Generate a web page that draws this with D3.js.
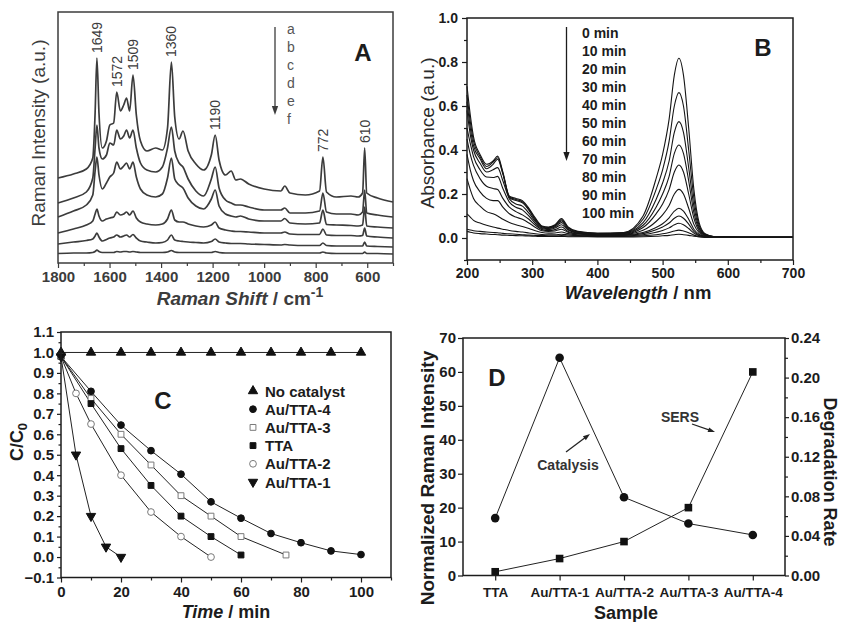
<!DOCTYPE html>
<html>
<head>
<meta charset="utf-8">
<script src="https://cdnjs.cloudflare.com/ajax/libs/d3/7.8.5/d3.min.js"></script>
<style>
  body { margin: 0; background: #fff; }
  svg { display: block; }
  text { font-family: "Liberation Sans", Arial, sans-serif; }
</style>
</head>
<body>
<svg id="fig" width="843" height="622"></svg>
<script>
// ---------- data: A, SERS spectra a-f ----------
const ramanShift = [1800, 1740, 1690, 1665, 1656, 1649, 1641, 1628, 1612, 1599,
  1584, 1572, 1558, 1545, 1534, 1522, 1509, 1496, 1480, 1455,
  1421, 1395, 1375, 1360, 1347, 1330, 1315, 1295, 1265, 1235,
  1205, 1190, 1175, 1150, 1128, 1110, 1092, 1060, 1000, 935,
  920, 900, 840, 785, 772, 758, 720, 663, 635, 618,
  610, 602, 560, 500];
const ramanA = [85, 89, 94, 105, 150, 205, 150, 115, 122, 138,
  140, 171, 152, 158, 165, 152, 188, 148, 122, 112,
  115, 113, 135, 201, 146, 124, 132, 112, 99, 93,
  108, 128, 103, 88, 92, 83, 84, 79, 74, 72,
  77, 70, 68, 72, 106, 71, 66, 67, 66, 70,
  115, 70, 65, 61];
const ramanB = [60, 65, 71, 85, 115, 138, 115, 104, 108, 120,
  118, 133, 124, 127, 133, 125, 133, 115, 100, 93,
  91, 96, 115, 136, 112, 100, 96, 84, 72, 67,
  84, 96, 75, 63, 60, 58, 58, 56, 53, 53,
  55, 50, 50, 52, 70, 51, 49, 49, 48, 51,
  73, 50, 48, 46];
const ramanC = [46, 52, 58, 68, 92, 106, 88, 74, 80, 86,
  90, 101, 94, 97, 100, 94, 101, 86, 74, 68,
  66, 69, 85, 105, 84, 78, 75, 65, 57, 54,
  64, 73, 57, 49, 47, 46, 47, 44, 42, 42,
  44.5, 40, 39, 40, 53, 38.5, 38, 37.5, 37, 38,
  56, 37, 36, 35];
const ramanD = [30, 34, 38, 42, 49, 54, 47, 42, 44, 45,
  46, 51, 48, 49, 51, 48, 52, 45, 41, 39,
  38, 39, 44, 53, 43, 41, 41, 39, 37, 36,
  38, 41, 35, 33, 32, 31.5, 31.5, 31, 30, 30,
  31, 29, 28.5, 28.5, 34, 28, 27.5, 27.5, 27, 27.5,
  35, 27, 26, 25];
const ramanE = [19, 21, 22.5, 24, 27, 30, 26, 22, 23.5, 25,
  26, 28, 26, 27, 28, 26, 28.5, 25, 22, 21,
  20, 20.5, 23, 28, 23, 22, 21.5, 21, 20.5, 20,
  21.5, 24, 21, 20, 19.5, 19.5, 19.5, 19, 18.5, 18,
  18.5, 18, 17.5, 17.5, 20, 17.5, 17, 17, 17, 17,
  21, 17, 16.5, 16];
const ramanF = [9.5, 10, 10, 10.5, 11.5, 13, 11.5, 10.5, 10.5, 10.5,
  10.5, 11.5, 11, 11.5, 11.5, 11, 11.5, 11, 10.5, 10.5,
  10.5, 10.5, 11, 12.5, 11, 10.5, 10.5, 10.5, 10.5, 10.5,
  10.5, 11.5, 10.5, 10, 10, 10, 10, 10, 10, 10,
  10, 10, 10, 10, 11, 10, 9.5, 9.5, 9.5, 9.5,
  11, 9.5, 9.5, 9];
const ramanSpectra = [ramanA, ramanB, ramanC, ramanD, ramanE, ramanF];
const ramanNames = ["a", "b", "c", "d", "e", "f"];
const peakLabels = [1649, 1572, 1509, 1360, 1190, 772, 610];
const ramanTicks = [1800, 1600, 1400, 1200, 1000, 800, 600];

// ---------- data: B, UV-vis absorbance ----------
const wavelength = [200, 205, 210, 220, 230, 240, 247, 255, 265, 275, 285, 295, 305, 315, 325,
  335, 345, 355, 370, 400, 440, 470, 490, 500, 510, 518, 525, 532, 540, 548, 556, 565, 580, 620, 700];
const abs0 = [0.69, 0.56, 0.46, 0.38, 0.335, 0.35, 0.372, 0.30, 0.19, 0.18, 0.17, 0.135, 0.09, 0.055, 0.05,
  0.06, 0.088, 0.05, 0.03, 0.022, 0.025, 0.1, 0.27, 0.38, 0.54, 0.74, 0.817, 0.74, 0.5, 0.22, 0.07, 0.02, 0.006, 0.003, 0.003];
const abs10 = [0.65, 0.53, 0.44, 0.37, 0.325, 0.345, 0.365, 0.295, 0.187, 0.175, 0.165, 0.13, 0.085, 0.052, 0.048,
  0.057, 0.083, 0.047, 0.028, 0.02, 0.023, 0.085, 0.22, 0.31, 0.44, 0.6, 0.661, 0.6, 0.4, 0.18, 0.058, 0.018, 0.006, 0.003, 0.003];
const abs20 = [0.62, 0.5, 0.42, 0.36, 0.315, 0.335, 0.358, 0.29, 0.184, 0.17, 0.16, 0.125, 0.08, 0.05, 0.046,
  0.055, 0.078, 0.045, 0.027, 0.02, 0.022, 0.07, 0.175, 0.25, 0.35, 0.48, 0.529, 0.48, 0.32, 0.145, 0.048, 0.016, 0.005, 0.003, 0.003];
const abs30 = [0.58, 0.47, 0.4, 0.34, 0.3, 0.31, 0.32, 0.26, 0.178, 0.155, 0.145, 0.113, 0.074, 0.047, 0.043,
  0.05, 0.07, 0.04, 0.025, 0.018, 0.02, 0.058, 0.14, 0.2, 0.28, 0.385, 0.423, 0.385, 0.26, 0.115, 0.04, 0.014, 0.005, 0.003, 0.003];
const abs40 = [0.5, 0.43, 0.37, 0.31, 0.277, 0.275, 0.28, 0.225, 0.163, 0.14, 0.128, 0.1, 0.066, 0.043, 0.038,
  0.045, 0.06, 0.036, 0.022, 0.016, 0.018, 0.048, 0.11, 0.155, 0.22, 0.3, 0.332, 0.3, 0.2, 0.09, 0.032, 0.012, 0.005, 0.003, 0.003];
const abs50 = [0.45, 0.38, 0.33, 0.27, 0.235, 0.225, 0.22, 0.18, 0.14, 0.12, 0.105, 0.085, 0.058, 0.038, 0.034,
  0.038, 0.05, 0.03, 0.02, 0.015, 0.016, 0.035, 0.075, 0.105, 0.148, 0.2, 0.221, 0.2, 0.135, 0.062, 0.024, 0.01, 0.004, 0.003, 0.003];
const abs60 = [0.38, 0.31, 0.26, 0.21, 0.18, 0.17, 0.17, 0.14, 0.11, 0.095, 0.085, 0.068, 0.048, 0.033, 0.03,
  0.032, 0.04, 0.026, 0.018, 0.013, 0.014, 0.025, 0.048, 0.065, 0.092, 0.122, 0.135, 0.122, 0.085, 0.04, 0.017, 0.008, 0.004, 0.003, 0.003];
const abs70 = [0.27, 0.22, 0.18, 0.145, 0.12, 0.11, 0.1, 0.085, 0.07, 0.06, 0.052, 0.043, 0.033, 0.025, 0.022,
  0.023, 0.027, 0.02, 0.014, 0.011, 0.012, 0.02, 0.037, 0.05, 0.068, 0.09, 0.1, 0.09, 0.063, 0.03, 0.013, 0.007, 0.004, 0.003, 0.003];
const abs80 = [0.11, 0.095, 0.08, 0.068, 0.058, 0.05, 0.045, 0.04, 0.034, 0.03, 0.027, 0.023, 0.019, 0.016, 0.015,
  0.015, 0.017, 0.014, 0.011, 0.009, 0.01, 0.015, 0.026, 0.034, 0.046, 0.06, 0.067, 0.06, 0.043, 0.022, 0.01, 0.006, 0.004, 0.003, 0.003];
const abs90 = [0.04, 0.036, 0.033, 0.03, 0.027, 0.025, 0.024, 0.021, 0.019, 0.017, 0.015, 0.013, 0.012, 0.011, 0.01,
  0.01, 0.011, 0.009, 0.008, 0.007, 0.007, 0.01, 0.015, 0.019, 0.025, 0.032, 0.036, 0.032, 0.024, 0.013, 0.007, 0.004, 0.003, 0.003, 0.003];
const abs100 = [0.03, 0.026, 0.023, 0.02, 0.018, 0.016, 0.015, 0.013, 0.012, 0.011, 0.01, 0.009, 0.008, 0.007, 0.007,
  0.007, 0.007, 0.006, 0.006, 0.005, 0.005, 0.006, 0.008, 0.01, 0.012, 0.015, 0.017, 0.015, 0.012, 0.008, 0.005, 0.003, 0.003, 0.003, 0.003];
const absSpectra = [abs0, abs10, abs20, abs30, abs40, abs50, abs60, abs70, abs80, abs90, abs100];
const absTimes = [0, 10, 20, 30, 40, 50, 60, 70, 80, 90, 100];

// ---------- data: C, C/C0 vs time ----------
const kinetics = [
  {name: "No catalyst", symbol: "triUp", fill: true,
   t: [0, 10, 20, 30, 40, 50, 60, 70, 80, 90, 100], v: [1, 1, 1, 1, 1, 1, 1, 1, 1, 1, 1]},
  {name: "Au/TTA-4", symbol: "circle", fill: true,
   t: [0, 10, 20, 30, 40, 50, 60, 70, 80, 90, 100], v: [0.98, 0.81, 0.645, 0.52, 0.405, 0.27, 0.19, 0.115, 0.07, 0.03, 0.012]},
  {name: "Au/TTA-3", symbol: "square", fill: false,
   t: [0, 10, 20, 30, 40, 50, 60, 75], v: [0.98, 0.775, 0.6, 0.45, 0.3, 0.2, 0.1, 0.01]},
  {name: "TTA", symbol: "square", fill: true,
   t: [0, 10, 20, 30, 40, 50, 60], v: [0.98, 0.75, 0.53, 0.35, 0.2, 0.1, 0.01]},
  {name: "Au/TTA-2", symbol: "circle", fill: false,
   t: [0, 5, 10, 20, 30, 40, 50], v: [0.98, 0.8, 0.65, 0.4, 0.22, 0.1, 0.0]},
  {name: "Au/TTA-1", symbol: "triDown", fill: true,
   t: [0, 5, 10, 15, 20], v: [0.98, 0.5, 0.2, 0.05, 0.0]}
];

// ---------- data: D, SERS vs catalysis ----------
const samples = ["TTA", "Au/TTA-1", "Au/TTA-2", "Au/TTA-3", "Au/TTA-4"];
const sersIntensity = [1.1, 5.0, 10, 20, 60];
const degradationRate = [0.058, 0.22, 0.079, 0.0525, 0.041];

// ---------------------------------------------------------------
const svg = d3.select("#fig");
const INK = "#1c1c1c";
const BOLD = "bold";

function frame(x0, y0, x1, y1, color) {
  svg.append("rect").attr("x", x0).attr("y", y0)
    .attr("width", x1 - x0).attr("height", y1 - y0)
    .attr("fill", "none").attr("stroke", color || INK).attr("stroke-width", 1.5);
}

function styleAxis(g, size, color) {
  g.select(".domain").remove();
  g.selectAll("line").attr("stroke", color || INK).attr("stroke-width", 1.2);
  g.selectAll("text").attr("font-size", size).attr("font-weight", BOLD)
    .attr("fill", color || INK).attr("font-family", '"Liberation Sans", Arial, sans-serif');
  return g;
}

function minor(axis, values, size) {
  return axis.tickValues(values).tickSize(size).tickFormat("");
}

function arrow(x1, y1, x2, y2, color, head) {
  const a = Math.atan2(y2 - y1, x2 - x1), h = head || 8, w = h * 0.35;
  svg.append("line").attr("x1", x1).attr("y1", y1)
    .attr("x2", x2 - Math.cos(a) * h * 0.6).attr("y2", y2 - Math.sin(a) * h * 0.6)
    .attr("stroke", color).attr("stroke-width", 1.3);
  const p = [[x2, y2],
    [x2 - Math.cos(a) * h - Math.sin(a) * w, y2 - Math.sin(a) * h + Math.cos(a) * w],
    [x2 - Math.cos(a) * h + Math.sin(a) * w, y2 - Math.sin(a) * h - Math.cos(a) * w]];
  svg.append("path").attr("d", "M" + p.join("L") + "Z").attr("fill", color);
}

function panelLetter(x, y, s) {
  svg.append("text").attr("x", x).attr("y", y).attr("text-anchor", "middle")
    .attr("font-family", '"Liberation Serif", "Times New Roman", serif')
    .attr("font-weight", BOLD).attr("font-size", 24).attr("fill", INK).text(s);
}

// ================= A =================
{
  const gray = "#3c3c3c";
  const x = d3.scaleLinear().domain([1800, 500]).range([58, 393]);
  const y = d3.scaleLinear().domain([0, 251]).range([263, 12]);

  const line = d3.line().x((d, i) => x(ramanShift[i])).y(d => y(d)).curve(d3.curveMonotoneX);
  svg.append("g").selectAll("path").data(ramanSpectra).join("path")
    .attr("d", line).attr("fill", "none").attr("stroke", gray).attr("stroke-width", 1.7);

  frame(58, 12, 393, 263, gray);

  styleAxis(svg.append("g").attr("transform", "translate(0,263)")
    .call(d3.axisBottom(x).tickValues(ramanTicks).tickFormat(d3.format("d")).tickSize(5).tickPadding(3)), 15, gray);
  styleAxis(svg.append("g").attr("transform", "translate(0,263)")
    .call(minor(d3.axisBottom(x), d3.range(500, 1801, 100).filter(v => v % 200 !== 0), 3)), 15, gray);

  // peak labels sit just above spectrum a
  peakLabels.forEach(p => {
    const i = ramanShift.indexOf(p);
    const top = y(ramanA[i]);
    svg.append("text").attr("transform", `translate(${x(p) + 5},${top - 5}) rotate(-90)`)
      .attr("font-size", 14).attr("fill", gray).text(p);
  });

  ramanNames.forEach((n, i) => {
    svg.append("text").attr("x", 287).attr("y", 34 + i * 18)
      .attr("font-size", 14).attr("fill", "#555").text(n);
  });
  arrow(275, 27, 275, 115, gray, 9);
  panelLetter(363, 61, "A");

  svg.append("text").attr("transform", "translate(45,133) rotate(-90)")
    .attr("text-anchor", "middle").attr("font-size", 19).attr("fill", gray)
    .text("Raman Intensity (a.u.)");
  const t = svg.append("text").attr("x", 240).attr("y", 305).attr("text-anchor", "middle")
    .attr("font-size", 19).attr("font-weight", BOLD).attr("fill", gray);
  t.append("tspan").attr("font-style", "italic").text("Raman Shift");
  t.append("tspan").text(" / cm");
  t.append("tspan").attr("font-size", 14).attr("dy", -8).text("-1");
}

// ================= B =================
{
  const x = d3.scaleLinear().domain([200, 700]).range([467, 793]);
  const y = d3.scaleLinear().domain([-0.1, 1.0]).range([260, 18]);

  const line = d3.line().x((d, i) => x(wavelength[i])).y(d => y(d)).curve(d3.curveMonotoneX);
  svg.append("g").selectAll("path").data(absSpectra).join("path")
    .attr("d", line).attr("fill", "none").attr("stroke", "#151515").attr("stroke-width", 1.1);

  frame(467, 18, 793, 260);

  styleAxis(svg.append("g").attr("transform", "translate(0,260)")
    .call(d3.axisBottom(x).tickValues([200, 300, 400, 500, 600, 700]).tickSize(5).tickPadding(3)), 14);
  styleAxis(svg.append("g").attr("transform", "translate(0,260)")
    .call(minor(d3.axisBottom(x), [250, 350, 450, 550, 650], 3)), 14);
  styleAxis(svg.append("g").attr("transform", "translate(467,0)")
    .call(d3.axisLeft(y).tickValues([0, 0.2, 0.4, 0.6, 0.8, 1.0]).tickFormat(d3.format(".1f")).tickSize(5).tickPadding(4)), 14);
  styleAxis(svg.append("g").attr("transform", "translate(467,0)")
    .call(minor(d3.axisLeft(y), [-0.1, 0.1, 0.3, 0.5, 0.7, 0.9], 3)), 14);

  absTimes.forEach((m, i) => {
    svg.append("text").attr("x", 582).attr("y", 38 + i * 18)
      .attr("font-size", 14).attr("font-weight", BOLD).attr("fill", INK).text(m + " min");
  });
  arrow(566.5, 27, 566.5, 161, INK, 9);
  panelLetter(763, 56, "B");

  svg.append("text").attr("transform", "translate(434,133) rotate(-90)")
    .attr("text-anchor", "middle").attr("font-size", 19).attr("fill", "#2a2a2a")
    .text("Absorbance (a.u.)");
  const t = svg.append("text").attr("x", 638).attr("y", 299).attr("text-anchor", "middle")
    .attr("font-size", 18.5).attr("font-weight", BOLD).attr("fill", INK);
  t.append("tspan").attr("font-style", "italic").text("Wavelength");
  t.append("tspan").text(" / nm");
}

// ================= C =================
{
  const x = d3.scaleLinear().domain([0, 110]).range([61, 391]);
  const y = d3.scaleLinear().domain([-0.1, 1.1]).range([577.5, 332]);

  const shape = {
    triUp: d3.symbol().type(d3.symbolTriangle).size(38),
    triDown: d3.symbol().type(d3.symbolTriangle).size(38),
    circle: d3.symbol().type(d3.symbolCircle).size(36),
    square: d3.symbol().type(d3.symbolSquare).size(34)
  };
  const drawMarker = (g, s, px, py) => {
    g.append("path").attr("d", shape[s.symbol]())
      .attr("transform", `translate(${px},${py})` + (s.symbol === "triDown" ? " rotate(180)" : ""))
      .attr("fill", s.fill ? "#111" : "#fff")
      .attr("stroke", s.fill ? "#111" : "#7a7a7a").attr("stroke-width", 1);
  };

  const line = d3.line().x(d => x(d[0])).y(d => y(d[1]));
  kinetics.forEach(s => {
    const pts = s.t.map((t, i) => [t, s.v[i]]);
    svg.append("path").attr("d", line(pts)).attr("fill", "none")
      .attr("stroke", "#222").attr("stroke-width", 1);
  });
  kinetics.forEach(s => {
    const g = svg.append("g");
    s.t.forEach((t, i) => drawMarker(g, s, x(t), y(s.v[i])));
  });

  frame(61, 332, 391, 577.5);

  styleAxis(svg.append("g").attr("transform", "translate(0,577.5)")
    .call(d3.axisBottom(x).tickValues([0, 20, 40, 60, 80, 100]).tickSize(5).tickPadding(4)), 15);
  styleAxis(svg.append("g").attr("transform", "translate(0,577.5)")
    .call(minor(d3.axisBottom(x), [10, 30, 50, 70, 90, 110], 3)), 15);
  styleAxis(svg.append("g").attr("transform", "translate(61,0)")
    .call(d3.axisLeft(y).tickValues(d3.range(-0.1, 1.15, 0.1)).tickFormat(d3.format(".1f")).tickSize(4).tickPadding(3)), 15);
  styleAxis(svg.append("g").attr("transform", "translate(61,0)")
    .call(minor(d3.axisLeft(y), d3.range(-0.05, 1.1, 0.1), 2.5)), 15);

  const lg = svg.append("g");
  kinetics.forEach((s, i) => {
    const cy = 391 + i * 18.2;
    drawMarker(lg, s, 253, cy);
    lg.append("text").attr("x", 265).attr("y", cy + 5.5)
      .attr("font-size", 15).attr("font-weight", BOLD).attr("fill", INK).text(s.name);
  });
  panelLetter(163, 409, "C");

  const yl = svg.append("text").attr("transform", "translate(23,442) rotate(-90)")
    .attr("text-anchor", "middle").attr("font-size", 18).attr("font-weight", BOLD).attr("fill", INK);
  yl.append("tspan").text("C/C");
  yl.append("tspan").attr("font-size", 13).attr("dy", 4).text("0");
  const t = svg.append("text").attr("x", 226).attr("y", 618).attr("text-anchor", "middle")
    .attr("font-size", 18).attr("font-weight", BOLD).attr("fill", INK);
  t.append("tspan").attr("font-style", "italic").text("Time");
  t.append("tspan").text(" / min");
}

// ================= D =================
{
  const x = d3.scalePoint().domain(samples).range([463, 785]).padding(0.5);
  const yL = d3.scaleLinear().domain([0, 70]).range([575.5, 338]);
  const yR = d3.scaleLinear().domain([0, 0.24]).range([575.5, 338]);

  const sersLine = d3.line().x((d, i) => x(samples[i])).y(d => yL(d));
  const rateLine = d3.line().x((d, i) => x(samples[i])).y(d => yR(d));
  svg.append("path").attr("d", sersLine(sersIntensity)).attr("fill", "none").attr("stroke", "#222").attr("stroke-width", 1);
  svg.append("path").attr("d", rateLine(degradationRate)).attr("fill", "none").attr("stroke", "#222").attr("stroke-width", 1);

  svg.append("g").selectAll("rect").data(sersIntensity).join("rect")
    .attr("x", (d, i) => x(samples[i]) - 3.8).attr("y", d => yL(d) - 3.8)
    .attr("width", 7.6).attr("height", 7.6).attr("fill", "#111");
  svg.append("g").selectAll("circle").data(degradationRate).join("circle")
    .attr("cx", (d, i) => x(samples[i])).attr("cy", d => yR(d)).attr("r", 4.3).attr("fill", "#111");

  frame(463, 338, 785, 575.5);

  styleAxis(svg.append("g").attr("transform", "translate(0,575.5)")
    .call(d3.axisBottom(x).tickSize(5).tickPadding(7)), 13.5);
  styleAxis(svg.append("g").attr("transform", "translate(463,0)")
    .call(d3.axisLeft(yL).tickValues(d3.range(0, 71, 10)).tickSize(5).tickPadding(2)), 15);
  styleAxis(svg.append("g").attr("transform", "translate(785,0)")
    .call(d3.axisRight(yR).tickValues([0, 0.04, 0.08, 0.12, 0.16, 0.2, 0.24]).tickFormat(d3.format(".2f")).tickSize(4).tickPadding(2)), 15);
  styleAxis(svg.append("g").attr("transform", "translate(785,0)")
    .call(minor(d3.axisRight(yR), [0.02, 0.06, 0.1, 0.14, 0.18, 0.22], 3)), 15);

  svg.append("text").attr("x", 568).attr("y", 470).attr("text-anchor", "middle")
    .attr("font-size", 14).attr("font-weight", BOLD).attr("fill", "#333").text("Catalysis");
  arrow(566, 452, 590, 434, "#222", 7);
  svg.append("text").attr("x", 680).attr("y", 422).attr("text-anchor", "middle")
    .attr("font-size", 14).attr("font-weight", BOLD).attr("fill", "#333").text("SERS");
  arrow(692, 424, 715, 432, "#222", 7);
  panelLetter(497, 386, "D");

  svg.append("text").attr("transform", "translate(434,478) rotate(-90)")
    .attr("text-anchor", "middle").attr("font-size", 19).attr("font-weight", BOLD).attr("fill", INK)
    .text("Normalized Raman Intensity");
  svg.append("text").attr("transform", "translate(824,472) rotate(90)")
    .attr("text-anchor", "middle").attr("font-size", 18).attr("font-weight", BOLD).attr("fill", INK)
    .text("Degradation Rate");
  svg.append("text").attr("x", 626).attr("y", 619).attr("text-anchor", "middle")
    .attr("font-size", 18).attr("font-weight", BOLD).attr("fill", INK).text("Sample");
}
</script>
</body>
</html>
